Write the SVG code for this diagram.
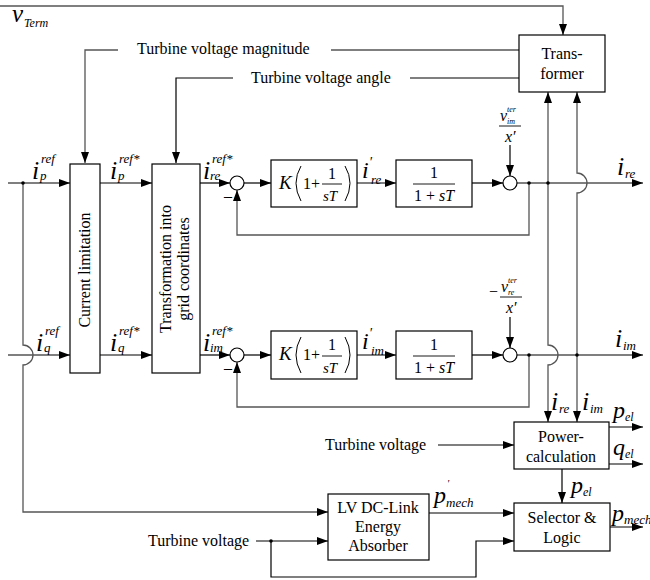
<svg xmlns="http://www.w3.org/2000/svg" width="650" height="580" viewBox="0 0 650 580" font-family="Liberation Serif">
<style>
.box{fill:#fff;stroke:#000;stroke-width:1.2}
.ln{fill:none;stroke:#000;stroke-width:1.2}
.gl{fill:none;stroke:#555;stroke-width:1.3}
.t{font-size:16px;fill:#000}
.m{font-style:italic;fill:#000}
.sum{fill:#fff;stroke:#000;stroke-width:1.2}
</style>
<defs>
<marker id="ar" markerWidth="11" markerHeight="8" refX="11" refY="4" orient="auto" markerUnits="userSpaceOnUse">
<path d="M0,0 L11,4 L0,8 Z" fill="#000"/>
</marker>
</defs>
<rect width="650" height="580" fill="#fff"/>

<g id="connectors">
<path class="gl" d="M0,6 H563 V35" marker-end="url(#ar)"/>
<path class="gl" d="M118,50 H85 V163" marker-end="url(#ar)"/>
<path class="gl" d="M331,50 H519"/>
<path class="ln" d="M233,78 H176 V163" marker-end="url(#ar)"/>
<path class="ln" d="M410,78 H519"/>
<path class="ln" d="M8,183 H70" marker-end="url(#ar)"/>
<path class="ln" d="M100,183 H152" marker-end="url(#ar)"/>
<path class="ln" d="M200,183 H230" marker-end="url(#ar)"/>
<path class="ln" d="M244,183 H271" marker-end="url(#ar)"/>
<path class="ln" d="M357,183 H396" marker-end="url(#ar)"/>
<path class="ln" d="M472,183 H503" marker-end="url(#ar)"/>
<path class="ln" d="M517,183 H643" marker-end="url(#ar)"/>
<path class="ln" d="M510,145 V176" marker-end="url(#ar)"/>
<path class="gl" d="M529,183 V235 H237 V190" marker-end="url(#ar)"/>
<path class="ln" d="M8,355 H70" marker-end="url(#ar)"/>
<path class="ln" d="M100,355 H152" marker-end="url(#ar)"/>
<path class="ln" d="M200,355 H230" marker-end="url(#ar)"/>
<path class="ln" d="M244,355 H271" marker-end="url(#ar)"/>
<path class="ln" d="M357,355 H396" marker-end="url(#ar)"/>
<path class="ln" d="M472,355 H503" marker-end="url(#ar)"/>
<path class="ln" d="M517,355 H643" marker-end="url(#ar)"/>
<path class="ln" d="M510,317 V348" marker-end="url(#ar)"/>
<path class="gl" d="M529,355 V407 H237 V362" marker-end="url(#ar)"/>
<path class="gl" d="M23,183 V345 A10,10 0 0 1 23,365 V512 H328" marker-end="url(#ar)"/>
<path class="gl" d="M548,183 V92" marker-end="url(#ar)"/>
<path class="gl" d="M548,183 V345 A10,10 0 0 1 548,365 V422" marker-end="url(#ar)"/>
<path class="gl" d="M577,355 V193 A10,10 0 0 0 577,173 V92" marker-end="url(#ar)"/>
<path class="gl" d="M577,355 V422" marker-end="url(#ar)"/>
<path class="ln" d="M438,445 H514" marker-end="url(#ar)"/>
<path class="ln" d="M609,427 H643" marker-end="url(#ar)"/>
<path class="ln" d="M609,464 H643" marker-end="url(#ar)"/>
<path class="ln" d="M562,469 V503" marker-end="url(#ar)"/>
<path class="ln" d="M429,513 H514" marker-end="url(#ar)"/>
<path class="ln" d="M610,527 H643" marker-end="url(#ar)"/>
<path class="ln" d="M256,541 H328" marker-end="url(#ar)"/>
<path class="ln" d="M271,541 V577 H476 V541 H514" marker-end="url(#ar)"/>
<circle cx="23" cy="183" r="1.8" fill="#000"/>
<circle cx="529" cy="183" r="1.8" fill="#000"/>
<circle cx="548" cy="183" r="1.8" fill="#000"/>
<circle cx="529" cy="355" r="1.8" fill="#000"/>
<circle cx="577" cy="355" r="1.8" fill="#000"/>
<circle cx="271" cy="541" r="1.8" fill="#000"/>
</g>

<g id="labels" font-family="Liberation Serif">
<text class="m" x="12" y="22" font-size="25">v</text>
<text class="m" x="24" y="27" font-size="12">Term</text>
<text class="t" x="137" y="54">Turbine  voltage magnitude</text>
<text class="t" x="251" y="83">Turbine voltage angle</text>
<text class="m" x="32" y="179" font-size="26">i</text>
<text class="m" x="41" y="163" font-size="13">ref</text>
<text class="m" x="40" y="180" font-size="13">p</text>
<text class="m" x="110" y="179" font-size="26">i</text>
<text class="m" x="119" y="163" font-size="13">ref*</text>
<text class="m" x="118" y="180" font-size="13">p</text>
<text class="m" x="203" y="179" font-size="26">i</text>
<text class="m" x="212" y="163" font-size="13">ref*</text>
<text class="m" x="210" y="180" font-size="13">re</text>
<text class="m" x="362" y="178" font-size="24">i</text>
<text class="m" x="369" y="167" font-size="14">′</text>
<text class="m" x="371" y="184" font-size="13">re</text>
<text class="m" x="617" y="175" font-size="26">i</text>
<text class="m" x="625" y="178" font-size="13">re</text>
<text class="m" x="36" y="351" font-size="26">i</text>
<text class="m" x="45" y="335" font-size="13">ref</text>
<text class="m" x="44" y="352" font-size="13">q</text>
<text class="m" x="110" y="351" font-size="26">i</text>
<text class="m" x="119" y="335" font-size="13">ref*</text>
<text class="m" x="118" y="352" font-size="13">q</text>
<text class="m" x="203" y="351" font-size="26">i</text>
<text class="m" x="212" y="335" font-size="13">ref*</text>
<text class="m" x="210" y="352" font-size="13">im</text>
<text class="m" x="362" y="349" font-size="24">i</text>
<text class="m" x="369" y="338" font-size="14">′</text>
<text class="m" x="371" y="355" font-size="13">im</text>
<text class="m" x="615" y="347" font-size="26">i</text>
<text class="m" x="623" y="350" font-size="13">im</text>
<text class="m" x="500" y="121" font-size="16">v</text>
<text class="m" x="507" y="112" font-size="8">ter</text>
<text class="m" x="507" y="124" font-size="8">im</text>
<line x1="499" y1="126" x2="521" y2="126" stroke="#000" stroke-width="0.9"/>
<text class="m" x="505" y="142" font-size="16">x′</text>
<text class="t" x="489" y="297" font-size="16">−</text>
<text class="m" x="501" y="292" font-size="16">v</text>
<text class="m" x="508" y="283" font-size="8">ter</text>
<text class="m" x="508" y="295" font-size="8">re</text>
<line x1="500" y1="297" x2="522" y2="297" stroke="#000" stroke-width="0.9"/>
<text class="m" x="506" y="313" font-size="16">x′</text>
<text class="t" x="224" y="201" font-size="15">–</text>
<text class="t" x="224" y="373" font-size="15">–</text>
<text class="m" x="551" y="410" font-size="26">i</text>
<text class="m" x="559" y="413" font-size="13">re</text>
<text class="m" x="582" y="410" font-size="26">i</text>
<text class="m" x="590" y="413" font-size="13">im</text>
<text class="m" x="613" y="418" font-size="24">p</text>
<text class="m" x="625" y="421" font-size="12">el</text>
<text class="m" x="613" y="455" font-size="24">q</text>
<text class="m" x="625" y="458" font-size="12">el</text>
<text class="m" x="571" y="493" font-size="24">p</text>
<text class="m" x="583" y="496" font-size="12">el</text>
<text class="m" x="434" y="503" font-size="24">p</text>
<text class="m" x="447" y="487" font-size="10">'</text>
<text class="m" x="446" y="507" font-size="13">mech</text>
<text class="m" x="612" y="521" font-size="24">p</text>
<text class="m" x="624" y="524" font-size="13">mech</text>
<text class="t" x="325" y="450">Turbine voltage</text>
<text class="t" x="148" y="546">Turbine voltage</text>
</g>

<g id="transformer" font-family="Liberation Serif">
<rect class="box" x="519" y="35" width="86" height="57"/>
<text class="t" x="562" y="59" text-anchor="middle">Trans-</text>
<text class="t" x="562" y="79" text-anchor="middle">former</text>
</g>
<g id="current-limitation" font-family="Liberation Serif">
<rect class="box" x="70" y="164" width="30" height="209"/>
<text class="t" transform="translate(90,270) rotate(-90)" text-anchor="middle" font-size="15.5">Current limitation</text>
</g>
<g id="transformation" font-family="Liberation Serif">
<rect class="box" x="152" y="164" width="48" height="209"/>
<text class="t" transform="translate(171,269) rotate(-90)" text-anchor="middle" font-size="15.5">Transformation into</text>
<text class="t" transform="translate(189,269) rotate(-90)" text-anchor="middle" font-size="15.5">grid coordinates</text>
</g>
<g id="sum-re1"><circle class="sum" cx="237" cy="183" r="7"/></g>
<g id="sum-re2"><circle class="sum" cx="510" cy="183" r="7"/></g>
<g id="sum-im1"><circle class="sum" cx="237" cy="355" r="7"/></g>
<g id="sum-im2"><circle class="sum" cx="510" cy="355" r="7"/></g>
<g id="pi-re" font-family="Liberation Serif">
<rect class="box" x="271" y="160" width="86" height="47"/>
<text class="m" x="279" y="189" font-size="19">K</text>
<path d="M301,166 Q291,183 301,201" fill="none" stroke="#000" stroke-width="1"/>
<text class="t" x="303" y="189" font-size="17">1+</text>
<text class="t" x="328" y="179" font-size="15">1</text>
<line x1="322" y1="184" x2="342" y2="184" stroke="#000" stroke-width="0.9"/>
<text class="m" x="323" y="201" font-size="15">sT</text>
<path d="M345,166 Q355,183 345,201" fill="none" stroke="#000" stroke-width="1"/>
</g>
<g id="lag-re" font-family="Liberation Serif">
<rect class="box" x="396" y="160" width="76" height="47"/>
<text class="t" x="434" y="178" font-size="15" text-anchor="middle">1</text>
<line x1="413" y1="184" x2="455" y2="184" stroke="#000" stroke-width="0.9"/>
<text class="t" x="434" y="201" font-size="15" text-anchor="middle">1 + <tspan font-style="italic">sT</tspan></text>
</g>
<g id="pi-im" font-family="Liberation Serif">
<rect class="box" x="271" y="331" width="86" height="48"/>
<text class="m" x="279" y="360" font-size="19">K</text>
<path d="M301,337 Q291,355 301,373" fill="none" stroke="#000" stroke-width="1"/>
<text class="t" x="303" y="360" font-size="17">1+</text>
<text class="t" x="328" y="350" font-size="15">1</text>
<line x1="322" y1="356" x2="342" y2="356" stroke="#000" stroke-width="0.9"/>
<text class="m" x="323" y="373" font-size="15">sT</text>
<path d="M345,337 Q355,355 345,373" fill="none" stroke="#000" stroke-width="1"/>
</g>
<g id="lag-im" font-family="Liberation Serif">
<rect class="box" x="396" y="331" width="76" height="48"/>
<text class="t" x="434" y="350" font-size="15" text-anchor="middle">1</text>
<line x1="413" y1="356" x2="455" y2="356" stroke="#000" stroke-width="0.9"/>
<text class="t" x="434" y="373" font-size="15" text-anchor="middle">1 + <tspan font-style="italic">sT</tspan></text>
</g>
<g id="power-calculation" font-family="Liberation Serif">
<rect class="box" x="514" y="422" width="95" height="47"/>
<text class="t" x="561" y="442" text-anchor="middle">Power-</text>
<text class="t" x="561" y="462" text-anchor="middle">calculation</text>
</g>
<g id="lv-dc-link" font-family="Liberation Serif">
<rect class="box" x="328" y="494" width="101" height="66"/>
<text class="t" x="378" y="513" text-anchor="middle">LV DC-Link</text>
<text class="t" x="378" y="532" text-anchor="middle">Energy</text>
<text class="t" x="378" y="551" text-anchor="middle">Absorber</text>
</g>
<g id="selector" font-family="Liberation Serif">
<rect class="box" x="514" y="503" width="96" height="48"/>
<text class="t" x="562" y="523" text-anchor="middle">Selector &amp;</text>
<text class="t" x="562" y="543" text-anchor="middle">Logic</text>
</g>
</svg>
